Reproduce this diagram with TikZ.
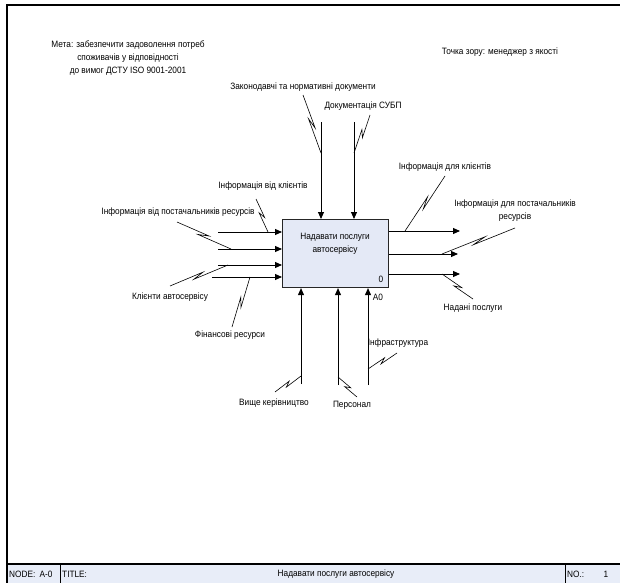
\documentclass[tikz,border=0pt]{standalone}
\usepackage{fontspec}
\setmainfont[FakeStretch=0.9]{Liberation Sans}
\usetikzlibrary{arrows.meta,calc}
\definecolor{boxfill}{HTML}{E4E9F6}
\definecolor{footfill}{HTML}{E8EDF8}
\begin{document}
\begin{tikzpicture}[x=1pt,y=-1pt,
  lbl/.style={font=\fontsize{9.2}{13}\selectfont, inner sep=0pt, align=center},
  arr/.style={line width=0.9pt, -{Triangle[length=7pt,width=6pt]}},
  squig/.style={line width=0.6pt, to path={
     -- ($(\tikztostart)!0.58!(\tikztotarget)!1.8pt!90:(\tikztotarget)$)
     -- ($(\tikztostart)!0.40!(\tikztotarget)!1.8pt!-90:(\tikztotarget)$)
     -- (\tikztotarget)}}]
\useasboundingbox (0,0) rectangle (620,583);
% frame
\fill[footfill] (7,564) rectangle (620,583);
\draw[line width=1.1pt] (620,5) -- (7,5) -- (7,583);
\draw[line width=1.1pt] (7,564) -- (620,564);
\draw[line width=0.9pt] (60,564) -- (60,583) (565,564) -- (565,583);
\node[lbl, anchor=west] (fnode) at (9,574) {NODE:};
\node[lbl] (fa0) at (46,574) {A-0};
\node[lbl, anchor=west] (ftitle) at (62,574) {TITLE:};
\node[lbl] (ftext) at (336,574) {Надавати послуги автосервісу};
\node[lbl, anchor=west] (fno) at (567,574) {NO.:};
\node[lbl] (fone) at (606,574) {1};
% top notes
\node[lbl] (goal) at (128,58) {Мета: забезпечити задоволення потреб\\споживачів у відповідності\\до вимог ДСТУ ISO 9001-2001};
\node[lbl] (view) at (500,52) {Точка зору: менеджер з якості};
% main box
\node[draw=black!85, line width=1.1pt, fill=boxfill, minimum width=106pt, minimum height=68pt, anchor=north west, inner sep=0pt] (box) at (282,219) {};
\node[lbl] (boxtxt) at (335,244) {Надавати послуги\\автосервісу};
\node[lbl] (boxnum) at (381,279) {0};
\node[lbl] (boxid) at (378,297) {A0};
% controls
\coordinate (c1s) at (321,122);
\coordinate (c2s) at (354,122);
\draw[arr] (c1s) -- (c1s |- box.north);
\draw[arr] (c2s) -- (c2s |- box.north);
\node[lbl] (lc1) at (303,87) {Законодавчі та нормативні документи};
\node[lbl] (lc2) at (363,106) {Документація СУБП};
\coordinate (c1a) at (303,95); \coordinate (c1b) at (321,153);
\coordinate (c2a) at (370,115); \coordinate (c2b) at (354,153);
\draw[squig] (c1a) to (c1b);
\draw[squig] (c2a) to (c2b);
% inputs
\coordinate (i1s) at (218,232);
\coordinate (i2s) at (218,249);
\coordinate (i3s) at (218,265);
\coordinate (i4s) at (212,277);
\foreach \n in {i1s,i2s,i3s,i4s} \draw[arr] (\n) -- (\n -| box.west);
\node[lbl] (li1) at (263,186) {Інформація від клієнтів};
\node[lbl] (li2) at (178,212) {Інформація від постачальників ресурсів};
\node[lbl] (li3) at (170,297) {Клієнти автосервісу};
\node[lbl] (li4) at (230,335) {Фінансові ресурси};
\coordinate (i1a) at (256,199); \coordinate (i1b) at (268,232);
\coordinate (i2a) at (177,222); \coordinate (i2b) at (231,249);
\coordinate (i3a) at (170,286); \coordinate (i3b) at (228,265);
\coordinate (i4a) at (232,327); \coordinate (i4b) at (250,277);
\draw[squig] (i1a) to (i1b);
\draw[squig] (i2a) to (i2b);
\draw[squig] (i3a) to (i3b);
\draw[squig] (i4a) to (i4b);
% outputs
\coordinate (o1e) at (460,231);
\coordinate (o2e) at (458,254);
\coordinate (o3e) at (460,274);
\foreach \n in {o1e,o2e,o3e} \draw[arr] (\n -| box.east) -- (\n);
\node[lbl] (lo1) at (445,167) {Інформація для клієнтів};
\node[lbl] (lo2) at (515,211) {Інформація для постачальників\\ресурсів};
\node[lbl] (lo3) at (473,308) {Надані послуги};
\coordinate (o1a) at (445,176); \coordinate (o1b) at (405,231);
\coordinate (o2a) at (515,228); \coordinate (o2b) at (442,254);
\coordinate (o3a) at (473,299); \coordinate (o3b) at (442,274);
\draw[squig] (o1a) to (o1b);
\draw[squig] (o2a) to (o2b);
\draw[squig] (o3a) to (o3b);
% mechanisms
\coordinate (m1s) at (301,384);
\coordinate (m2s) at (338,385);
\coordinate (m3s) at (368,385);
\foreach \n in {m1s,m2s,m3s} \draw[arr] (\n) -- (\n |- box.south);
\node[lbl] (lm1) at (274,403) {Вище керівництво};
\node[lbl] (lm2) at (352,405) {Персонал};
\node[lbl] (lm3) at (398,343) {Інфраструктура};
\coordinate (m1a) at (275,392); \coordinate (m1b) at (301,376);
\coordinate (m2a) at (357,397); \coordinate (m2b) at (338,377);
\coordinate (m3a) at (397,353); \coordinate (m3b) at (368,369);
\draw[squig] (m1a) to (m1b);
\draw[squig] (m2a) to (m2b);
\draw[squig] (m3a) to (m3b);
\end{tikzpicture}
\end{document}
